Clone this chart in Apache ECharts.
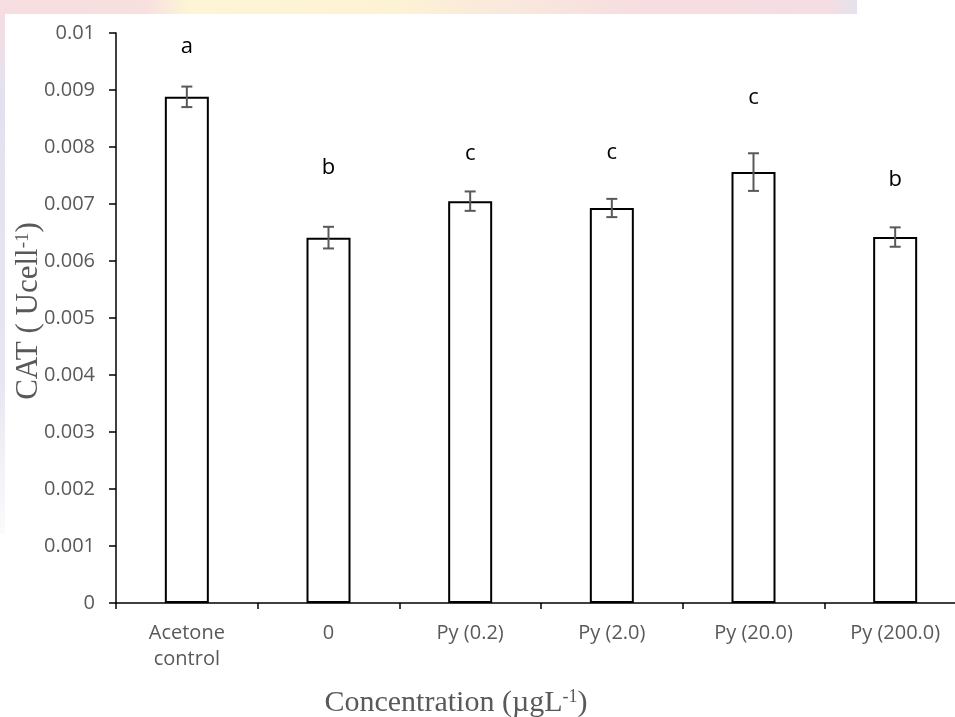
<!DOCTYPE html>
<html>
<head>
<meta charset="utf-8">
<script src="https://cdn.jsdelivr.net/npm/echarts@6/dist/echarts.min.js"></script>
<style>
html,body{margin:0;padding:0;background:#fff;overflow:hidden;}
#c{width:966px;height:717px;}
</style>
</head>
<body>
<div id="c"></div>
<script>
var categories = ['Acetone\ncontrol', '0', 'Py (0.2)', 'Py (2.0)', 'Py (20.0)', 'Py (200.0)'];
var catValues = [0.00888, 0.00641, 0.00705, 0.00693, 0.00756, 0.00642];
var catErrors = [0.00018, 0.00019, 0.00017, 0.00016, 0.00033, 0.00017];
var groupLetters = ['a', 'b', 'c', 'c', 'c', 'b'];
var letterHeights = [0.00976, 0.00763, 0.00788, 0.00790, 0.00886, 0.00742];

var chart = echarts.init(document.getElementById('c'), null, {renderer: 'canvas'});

var gray = '#595959';
var errData = catValues.map(function (v, i) { return [i, v - catErrors[i], v + catErrors[i]]; });
var letterData = letterHeights.map(function (h, i) { return [i, h, groupLetters[i]]; });

var option = {
  backgroundColor: '#fff',
  animation: false,
  grid: {left: 116, top: 33, right: 0, height: 570},
  xAxis: {
    type: 'category',
    data: categories,
    axisLine: {lineStyle: {color: '#000', width: 1.5}},
    axisTick: {show: true, alignWithLabel: false, length: 6, lineStyle: {color: '#000', width: 1.5}},
    axisLabel: {color: gray, fontFamily: 'Open Sans', fontSize: 20, lineHeight: 26, margin: 17, interval: 0}
  },
  yAxis: {
    type: 'value',
    min: 0, max: 0.01, interval: 0.001,
    splitLine: {show: false},
    axisLine: {show: true, lineStyle: {color: '#000', width: 1.5}},
    axisTick: {show: true, length: 7, lineStyle: {color: '#000', width: 1.5}},
    axisLabel: {
      color: gray, fontFamily: 'Open Sans', fontSize: 20, margin: 21,
      formatter: function (v) { return v === 0 ? '0' : parseFloat(v.toFixed(4)).toString(); }
    }
  },
  graphic: [
    {type: 'rect', z: -10, shape: {x: 0, y: 0, width: 857, height: 14},
     style: {fill: new echarts.graphic.LinearGradient(0, 0, 1, 0, [
       {offset: 0, color: '#f6dde1'}, {offset: 0.17, color: '#f7e0df'}, {offset: 0.22, color: '#fdf5d6'},
       {offset: 0.45, color: '#fdf3d4'}, {offset: 0.6, color: '#f9e8dc'}, {offset: 0.75, color: '#f6dde1'}, {offset: 0.97, color: '#f4dde3'}, {offset: 1, color: '#e4e2ee'}])}},
    {type: 'rect', z: -10, shape: {x: 0, y: 14, width: 5, height: 520},
     style: {fill: new echarts.graphic.LinearGradient(0, 0, 0, 1, [
       {offset: 0, color: '#f5dde2'}, {offset: 0.15, color: '#e2e2ee'}, {offset: 0.7, color: '#e6e6f0'}, {offset: 1, color: '#fbfbfd'}])}},
    {type: 'text', x: 29, y: 311, rotation: Math.PI / 2,
     style: {
       text: '{n|CAT ( Ucell}{s|-1}{n|)}', align: 'center', verticalAlign: 'middle',
       rich: {
         n: {fontFamily: 'Liberation Serif', fontSize: 31, fill: gray, color: gray},
         s: {fontFamily: 'Liberation Serif', fontSize: 19, fill: gray, color: gray, verticalAlign: 'top', padding: [0, 0, 12, 0]}
       }
     }},
    {type: 'text', x: 456, y: 703,
     style: {
       text: '{n|Concentration (µgL}{s|-1}{n|)}', align: 'center', verticalAlign: 'middle',
       rich: {
         n: {fontFamily: 'Liberation Serif', fontSize: 30, fill: gray, color: gray},
         s: {fontFamily: 'Liberation Serif', fontSize: 18, fill: gray, color: gray, verticalAlign: 'top', padding: [0, 0, 12, 0]}
       }
     }}
  ],
  series: [
    {
      type: 'bar',
      data: catValues,
      barWidth: 44,
      itemStyle: {color: '#fff', borderColor: '#000', borderWidth: 2}
    },
    {
      type: 'custom',
      data: errData,
      z: 5,
      renderItem: function (params, api) {
        var x = api.value(0);
        var lo = api.coord([x, api.value(1)]);
        var hi = api.coord([x, api.value(2)]);
        var w = 5.5;
        var st = {stroke: gray, lineWidth: 2, fill: null};
        return {
          type: 'group',
          children: [
            {type: 'line', shape: {x1: hi[0], y1: hi[1], x2: lo[0], y2: lo[1]}, style: st},
            {type: 'line', shape: {x1: hi[0] - w, y1: hi[1], x2: hi[0] + w, y2: hi[1]}, style: st},
            {type: 'line', shape: {x1: lo[0] - w, y1: lo[1], x2: lo[0] + w, y2: lo[1]}, style: st}
          ]
        };
      }
    },
    {
      type: 'custom',
      data: letterData,
      z: 6,
      renderItem: function (params, api) {
        var p = api.coord([api.value(0), api.value(1)]);
        return {
          type: 'text',
          x: p[0], y: p[1],
          style: {text: groupLetters[params.dataIndex], fill: '#000', fontFamily: 'Open Sans', fontSize: 22, align: 'center', verticalAlign: 'middle'}
        };
      }
    }
  ]
};
chart.setOption(option);
</script>
</body>
</html>
